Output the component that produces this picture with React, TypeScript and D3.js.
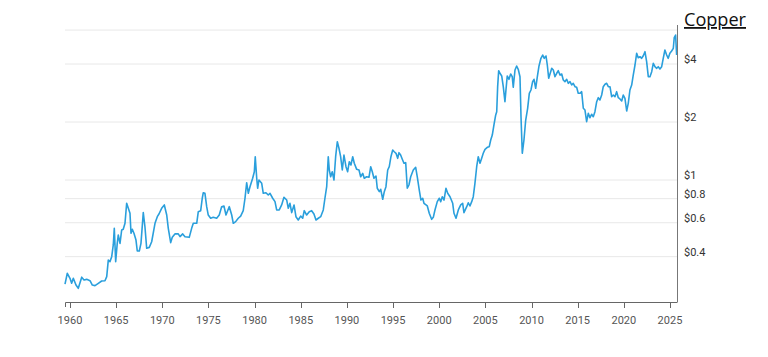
import React from "react";
import * as d3 from "d3";

const years: number[] = [
  1959.46, 1959.71, 1960.0, 1960.18, 1960.36, 1960.65, 1960.9, 1961.27, 1961.52, 1961.81,
  1962.17, 1962.42, 1962.71, 1963.07, 1963.43, 1963.79, 1963.98, 1964.15, 1964.33, 1964.52,
  1964.69, 1964.8, 1964.95, 1965.12, 1965.23, 1965.42, 1965.6, 1965.77, 1965.96, 1966.14,
  1966.32, 1966.5, 1966.61, 1966.75, 1966.93, 1967.15, 1967.29, 1967.51, 1967.69, 1967.94,
  1968.12, 1968.31, 1968.59, 1968.85, 1969.21, 1969.46, 1969.64, 1969.93, 1970.22, 1970.48,
  1970.65, 1970.91, 1971.08, 1971.37, 1971.73, 1971.92, 1972.21, 1972.46, 1972.92, 1973.18,
  1973.36, 1973.73, 1973.9, 1974.16, 1974.33, 1974.44, 1974.62, 1974.81, 1974.98, 1975.24,
  1975.52, 1975.89, 1976.17, 1976.43, 1976.68, 1976.9, 1977.08, 1977.26, 1977.52, 1977.69,
  1977.95, 1978.23, 1978.49, 1978.77, 1978.96, 1979.14, 1979.32, 1979.5, 1979.79, 1979.97,
  1980.07, 1980.23, 1980.33, 1980.47, 1980.77, 1980.94, 1981.23, 1981.48, 1981.67, 1981.96,
  1982.21, 1982.39, 1982.67, 1982.93, 1983.18, 1983.48, 1983.65, 1983.83, 1984.02, 1984.27,
  1984.48, 1984.73, 1984.99, 1985.21, 1985.38, 1985.64, 1985.92, 1986.18, 1986.43, 1986.65,
  1986.9, 1987.16, 1987.44, 1987.62, 1987.81, 1987.98, 1988.09, 1988.24, 1988.41, 1988.6,
  1988.78, 1988.96, 1989.14, 1989.32, 1989.5, 1989.68, 1989.9, 1990.08, 1990.26, 1990.44,
  1990.63, 1990.8, 1991.06, 1991.31, 1991.49, 1991.71, 1991.88, 1992.14, 1992.39, 1992.58,
  1992.75, 1992.93, 1993.15, 1993.29, 1993.51, 1993.66, 1993.88, 1994.05, 1994.23, 1994.42,
  1994.59, 1994.77, 1994.96, 1995.13, 1995.32, 1995.5, 1995.64, 1995.82, 1996.0, 1996.18,
  1996.37, 1996.54, 1996.72, 1996.91, 1997.19, 1997.45, 1997.62, 1997.84, 1998.02, 1998.21,
  1998.35, 1998.57, 1998.71, 1998.92, 1999.18, 1999.36, 1999.54, 1999.79, 2000.01, 2000.16,
  2000.33, 2000.52, 2000.73, 2000.92, 2001.17, 2001.46, 2001.6, 2001.82, 2002.07, 2002.33,
  2002.54, 2002.68, 2002.98, 2003.15, 2003.33, 2003.52, 2003.69, 2003.87, 2004.06, 2004.23,
  2004.42, 2004.6, 2004.77, 2004.96, 2005.21, 2005.42, 2005.58, 2005.75, 2005.93, 2006.12,
  2006.23, 2006.33, 2006.44, 2006.58, 2006.77, 2006.94, 2007.12, 2007.23, 2007.37, 2007.56,
  2007.74, 2007.91, 2008.02, 2008.21, 2008.39, 2008.56, 2008.75, 2008.86, 2009.0, 2009.18,
  2009.37, 2009.58, 2009.76, 2009.94, 2010.12, 2010.27, 2010.45, 2010.62, 2010.81, 2011.02,
  2011.21, 2011.38, 2011.57, 2011.71, 2011.86, 2012.0, 2012.19, 2012.36, 2012.54, 2012.73,
  2012.9, 2013.08, 2013.27, 2013.44, 2013.62, 2013.81, 2013.98, 2014.17, 2014.35, 2014.52,
  2014.71, 2014.89, 2015.06, 2015.25, 2015.43, 2015.61, 2015.79, 2015.97, 2016.15, 2016.33,
  2016.51, 2016.69, 2016.87, 2017.06, 2017.23, 2017.41, 2017.6, 2017.77, 2017.96, 2018.14,
  2018.32, 2018.5, 2018.68, 2018.86, 2019.04, 2019.22, 2019.4, 2019.58, 2019.77, 2019.94,
  2020.12, 2020.31, 2020.48, 2020.66, 2020.85, 2021.02, 2021.21, 2021.39, 2021.56, 2021.75,
  2021.93, 2022.11, 2022.29, 2022.47, 2022.65, 2022.83, 2023.02, 2023.19, 2023.37, 2023.56,
  2023.73, 2023.91, 2024.1, 2024.27, 2024.45, 2024.64, 2024.81, 2024.99, 2025.18, 2025.36,
  2025.46, 2025.61, 2025.72,
];

const prices: number[] = [
  0.288, 0.328, 0.309, 0.291, 0.309, 0.285, 0.274, 0.313, 0.303, 0.305,
  0.3, 0.285, 0.283, 0.291, 0.299, 0.3, 0.315, 0.384, 0.377, 0.4,
  0.46, 0.561, 0.377, 0.469, 0.518, 0.469, 0.55, 0.555, 0.596, 0.757,
  0.713, 0.672, 0.529, 0.555, 0.529, 0.488, 0.428, 0.428, 0.469, 0.677,
  0.572, 0.442, 0.447, 0.478, 0.596, 0.645, 0.666, 0.713, 0.742, 0.658,
  0.561, 0.473, 0.504, 0.525, 0.525, 0.508, 0.525, 0.508, 0.504, 0.561,
  0.596, 0.596, 0.685, 0.693, 0.804, 0.859, 0.853, 0.727, 0.658, 0.633,
  0.64, 0.633, 0.658, 0.727, 0.733, 0.658, 0.693, 0.727, 0.658, 0.596,
  0.608, 0.633, 0.65, 0.693, 0.804, 0.968, 0.853, 0.923, 1.021, 1.104,
  1.321, 1.021, 0.906, 1.0, 0.961, 0.853, 0.859, 0.836, 0.853, 0.804,
  0.772, 0.699, 0.699, 0.742, 0.813, 0.787, 0.713, 0.757, 0.677, 0.742,
  0.645, 0.62, 0.65, 0.633, 0.693, 0.658, 0.685, 0.693, 0.666, 0.62,
  0.633, 0.645, 0.699, 0.804, 0.923, 1.321, 1.127, 1.04, 1.104, 1.0,
  1.321, 1.58, 1.461, 1.321, 1.127, 1.348, 1.172, 1.104, 1.244, 1.196,
  1.321, 1.221, 1.136, 1.127, 1.04, 1.083, 1.021, 1.04, 1.033, 1.172,
  1.104, 1.021, 1.049, 0.906, 0.87, 0.895, 0.794, 0.87, 0.923, 1.127,
  1.172, 1.321, 1.431, 1.402, 1.376, 1.296, 1.386, 1.348, 1.281, 1.221,
  1.23, 0.906, 0.942, 1.04, 1.127, 1.164, 1.04, 0.887, 0.787, 0.804,
  0.757, 0.742, 0.733, 0.672, 0.625, 0.64, 0.699, 0.772, 0.804, 0.772,
  0.819, 0.787, 0.906, 0.853, 0.819, 0.757, 0.672, 0.633, 0.699, 0.742,
  0.757, 0.677, 0.727, 0.762, 0.733, 0.772, 0.819, 0.961, 1.172, 1.321,
  1.221, 1.296, 1.376, 1.443, 1.478, 1.489, 1.613, 1.712, 1.93, 2.175,
  2.262, 3.05, 3.692, 3.58, 3.466, 3.05, 2.549, 2.932, 3.466, 3.332,
  3.55, 3.437, 3.028, 3.723, 3.906, 3.755, 3.437, 2.131, 1.376, 1.613,
  2.048, 2.356, 2.818, 2.932, 3.238, 3.332, 2.992, 3.412, 3.906, 4.282,
  4.454, 4.282, 4.401, 3.953, 3.372, 3.55, 3.8, 3.723, 3.437, 3.58,
  3.692, 3.507, 3.55, 3.304, 3.238, 3.332, 3.176, 3.238, 3.112, 3.176,
  3.05, 3.028, 2.818, 2.818, 2.873, 2.356, 2.308, 2.007, 2.219, 2.105,
  2.193, 2.131, 2.262, 2.549, 2.674, 2.601, 2.762, 3.05, 3.138, 3.176,
  3.05, 3.05, 2.706, 2.762, 2.706, 2.873, 2.674, 2.633, 2.571, 2.762,
  2.655, 2.281, 2.501, 2.932, 3.112, 3.507, 3.953, 4.546, 4.313, 4.365,
  4.282, 4.417, 4.634, 4.112, 3.437, 3.437, 3.648, 4.034, 3.873, 3.8,
  3.873, 3.768, 3.873, 4.282, 4.728, 4.454, 4.282, 4.546, 4.672, 4.826,
  5.477, 5.657, 4.454,
];

const yTicks: number[] = [0.4, 0.6, 0.8, 1, 2, 4];
const yGrid: number[] = [0.4, 0.6, 0.8, 1, 2, 4, 6];
const yTickLabels: string[] = ["$0.4", "$0.6", "$0.8", "$1", "$2", "$4"];
const xTicks: number[] = [1960, 1965, 1970, 1975, 1980, 1985, 1990, 1995, 2000, 2005, 2010, 2015, 2020, 2025];
const title = "Copper";

export default function App() {
  const W = 768;
  const H = 357;
  const left = 65;
  const right = 677;
  const top = 25;
  const bottom = 302;

  const x = d3.scaleLinear().domain([1959.46, 2025.76]).range([left, right]);
  const y = d3.scaleLog().domain([0.2327, 6.375]).range([bottom, top]);

  const pts: [number, number][] = years.map((yr, i) => [yr, prices[i]]);
  const line = d3
    .line<[number, number]>()
    .x((d) => x(d[0]))
    .y((d) => y(d[1]));

  return (
    <svg
      width={W}
      height={H}
      style={{ position: "absolute", left: 0, top: 0, display: "block" }}
    >
      <rect x={0} y={0} width={W} height={H} fill="#ffffff" />
      {yGrid.map((v) => (
        <line
          key={"g" + v}
          x1={left}
          x2={right}
          y1={y(v)}
          y2={y(v)}
          stroke="#e8e8e8"
          strokeWidth={1}
        />
      ))}
      <path d={line(pts) || ""} fill="none" stroke="#2a9fdc" strokeWidth={1.6} strokeLinejoin="round" />
      {/* right axis */}
      <line x1={right + 0.5} x2={right + 0.5} y1={top} y2={bottom} stroke="#777" strokeWidth={1} />
      {yTicks.map((v, i) => (
        <text
          key={"yl" + v}
          x={684}
          y={y(v) - 1}
          fontFamily="Roboto, 'Noto Sans', sans-serif"
          fontSize={11}
          fill="#333"
        >
          {yTickLabels[i]}
        </text>
      ))}
      {/* x axis */}
      <path
        d={`M${left + 0.5},${bottom + 5}V${bottom + 0.5}H${right + 0.5}`}
        fill="none"
        stroke="#666"
        strokeWidth={1}
      />
      {xTicks.map((t) => (
        <g key={"xt" + t}>
          <line
            x1={Math.round(x(t)) + 0.5}
            x2={Math.round(x(t)) + 0.5}
            y1={bottom}
            y2={bottom + 6}
            stroke="#666"
            strokeWidth={1}
          />
          <text
            x={x(t)}
            y={323.5}
            textAnchor="middle"
            fontFamily="Roboto, 'Noto Sans', sans-serif"
            fontSize={11}
            fill="#555"
          >
            {t}
          </text>
        </g>
      ))}
      <text
        x={684}
        y={26}
        fontFamily="'Open Sans', 'Noto Sans', sans-serif"
        fontSize={18}
        fill="#111"
        textDecoration="underline"
        textLength={62}
        lengthAdjust="spacingAndGlyphs"
      >
        {title}
      </text>
    </svg>
  );
}
